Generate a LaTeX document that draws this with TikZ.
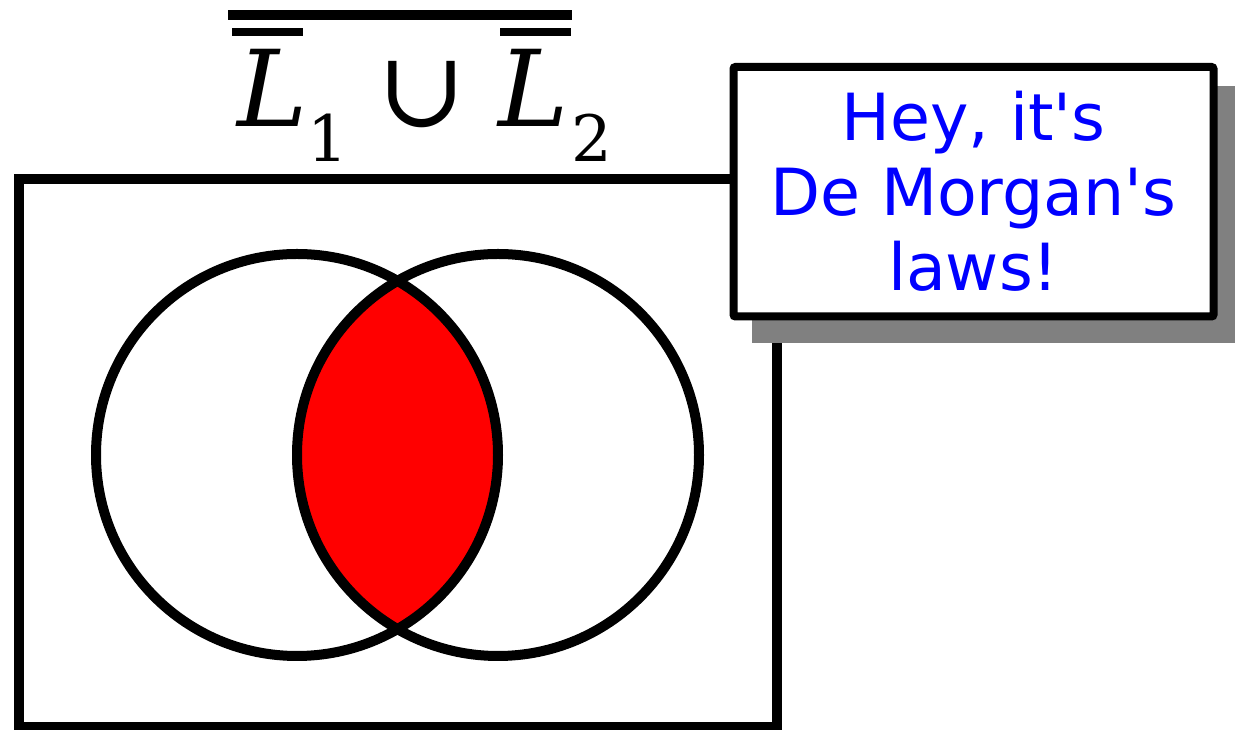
\documentclass[tikz,border=0pt]{standalone}
\usepackage{fontspec}
\setmainfont{DejaVu Sans}
\newfontfamily\dvsans{DejaVu Sans}
\newfontfamily\dvserif{DejaVu Serif}
\usetikzlibrary{calc}
\definecolor{shadowgray}{RGB}{128,128,128}
\definecolor{textblue}{RGB}{0,0,255}
\tikzset{
  thickline/.style={line width=10pt, draw=black},
  bigsym/.style={inner sep=0pt, font=\dvserif\fontsize{106}{110}\selectfont},
  subsym/.style={inner sep=0pt, font=\dvserif\fontsize{64}{70}\selectfont},
  calloutbox/.style={draw=black, line width=8pt, fill=white, rounded corners=2pt,
    minimum width=480pt, minimum height=249.5pt, inner sep=0pt, align=center,
    text=textblue, font=\dvsans\fontsize{65}{75}\selectfont},
}
\begin{document}
\begin{tikzpicture}[x=1pt,y=1pt]
\useasboundingbox (0,0) rectangle (1235,730);
% universe rectangle
\draw[thickline] (19,551) rectangle (777,3);
% intersection fill
\coordinate (cA) at (297,275);
\coordinate (cB) at (498,275);
\begin{scope}
  \clip (cA) circle (201);
  \fill[red] (cB) circle (201);
\end{scope}
\draw[thickline] (cA) circle (201);
\draw[thickline] (cB) circle (201);
% title
\node[bigsym, anchor=base west] (L1) at (237,603) {\itshape L};
\node[subsym, anchor=base west] (s1) at (307,568) {1};
\node[bigsym, anchor=south] (cup) at (421.5,602) {∪};
\node[bigsym, anchor=base west] (L2) at (498,603) {\itshape L};
\node[subsym, anchor=base west] (s2) at (571,568) {2};
\fill (228,710) rectangle (572,720);
\fill (232,694) rectangle (303,702);
\fill (500,694) rectangle (571,702);
% callout
\fill[shadowgray] (752,387) rectangle (1240,644);
\node[calloutbox] (box) at (973.5,538.25) {Hey, it's\\De Morgan's\\laws!};
\end{tikzpicture}
\end{document}
